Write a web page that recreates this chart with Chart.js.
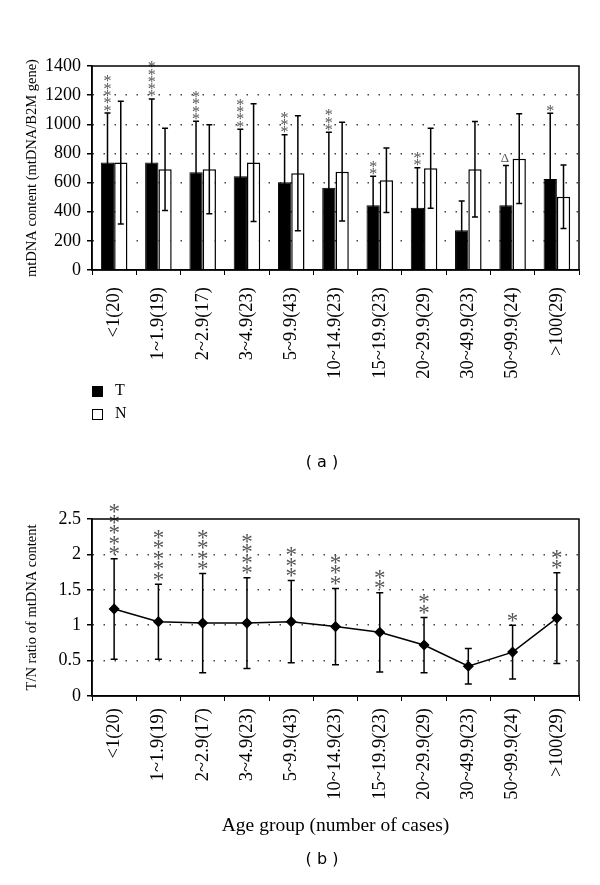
<!DOCTYPE html>
<html>
<head>
<meta charset="utf-8">
<script src="https://cdn.jsdelivr.net/npm/chart.js@4.4.0/dist/chart.umd.min.js"></script>
<style>
  body { margin: 0; background: #fff; }
  #page { position: relative; width: 600px; height: 885px; background: #fff; font-family: "Liberation Serif", serif; }
  canvas { position: absolute; left: 0; }
  #chartA { top: 0; }
  #chartB { top: 470px; }
  .box { position: absolute; left: 92px; width: 9px; height: 9px; border: 1px solid #000; }
  .leg { position: absolute; left: 115px; font-size: 16px; line-height: 1; }
  .cap { position: absolute; left: 322px; transform: translateX(-50%); font-family: "DejaVu Sans", sans-serif; font-size: 16px; line-height: 20px; }
</style>
</head>
<body>
<div id="page">
  <canvas id="chartA" width="600" height="440"></canvas>
  <canvas id="chartB" width="600" height="380"></canvas>
  <div class="box" style="top:386px;background:#000"></div>
  <div class="leg" style="top:382px">T</div>
  <div class="box" style="top:409px;background:#fff"></div>
  <div class="leg" style="top:405px">N</div>
  <div class="cap" style="top:452px">( a )</div>
  <div class="cap" style="top:849px">( b )</div>
</div>
<script>
// ===== DATA =====
const ageGroups = ["<1(20)", "1~1.9(19)", "2~2.9(17)", "3~4.9(23)", "5~9.9(43)", "10~14.9(23)",
  "15~19.9(23)", "20~29.9(29)", "30~49.9(23)", "50~99.9(24)", ">100(29)"];

// (a) mtDNA content, tumour (T) and non-tumour (N)
const tMean = [737, 737, 670, 643, 602, 565, 444, 428, 272, 444, 625];
const tSd   = [340, 437, 350, 323, 327, 380, 199, 274, 202, 274, 451];
const nMean = [737, 691, 691, 737, 664, 675, 616, 698, 691, 764, 503];
const nSd   = [421, 282, 305, 404, 395, 339, 222, 275, 328, 308, 218];
const tMarks = ["*****", "*****", "****", "****", "***", "***", "**", "**", "", "Δ", "*"];

// (b) T/N ratio
const ratio   = [1.23, 1.05, 1.03, 1.03, 1.05, 0.98, 0.90, 0.72, 0.42, 0.62, 1.10];
const ratioSd = [0.71, 0.53, 0.70, 0.64, 0.58, 0.54, 0.56, 0.39, 0.25, 0.38, 0.64];
const rMarks  = ["*****", "*****", "****", "****", "***", "***", "**", "**", "", "*", "**"];

const serif = "'Liberation Serif', 'Times New Roman', serif";

// ===== HELPERS =====
function whisker(ctx, x, yTop, yBot, cap) {
  ctx.beginPath();
  ctx.moveTo(x, yTop); ctx.lineTo(x, yBot);
  ctx.moveTo(x - cap, yTop); ctx.lineTo(x + cap, yTop);
  ctx.moveTo(x - cap, yBot); ctx.lineTo(x + cap, yBot);
  ctx.stroke();
}

// stack the marks upward, first one centred at yStart
function stackMarks(ctx, text, x, yStart, step, size) {
  ctx.font = size + "px " + serif;
  ctx.textAlign = "center";
  ctx.textBaseline = "alphabetic";
  [...text].forEach((ch, k) => {
    const m = ctx.measureText(ch);
    const cy = yStart - k * step;
    ctx.fillText(ch, x, cy + (m.actualBoundingBoxAscent - m.actualBoundingBoxDescent) / 2);
  });
}

const frame = {
  id: "frame",
  afterDraw(chart) {
    const a = chart.chartArea, ctx = chart.ctx;
    ctx.save();
    ctx.strokeStyle = "#000"; ctx.lineWidth = 1.5;
    ctx.strokeRect(a.left, a.top, a.right - a.left, a.bottom - a.top);
    ctx.restore();
  }
};

function dotGrid(maxVal) {
  return {
    color: c => (c.tick.value === 0 || c.tick.value === maxVal) ? "rgba(0,0,0,0)" : "#444",
    lineWidth: 1.5,
    tickColor: "#000",
    tickLength: 5
  };
}

// ===== CHART (a) =====
const barErrors = {
  id: "barErrors",
  afterDatasetsDraw(chart) {
    const ctx = chart.ctx, y = chart.scales.y;
    ctx.save();
    ctx.strokeStyle = "#000"; ctx.lineWidth = 1.5;
    [[0, tMean, tSd], [1, nMean, nSd]].forEach(([di, mean, sd]) => {
      chart.getDatasetMeta(di).data.forEach((bar, i) => {
        whisker(ctx, bar.x, y.getPixelForValue(mean[i] + sd[i]), y.getPixelForValue(mean[i] - sd[i]), 3);
      });
    });
    ctx.fillStyle = "#555";
    chart.getDatasetMeta(0).data.forEach((bar, i) => {
      const top = y.getPixelForValue(tMean[i] + tSd[i]);
      if (tMarks[i] === "Δ") stackMarks(ctx, tMarks[i], bar.x - 1, top - 7, 7.3, 13);
      else stackMarks(ctx, tMarks[i], bar.x, top - 5, 7.3, 16);
    });
    ctx.restore();
  }
};

new Chart(document.getElementById("chartA"), {
  type: "bar",
  data: {
    labels: ageGroups,
    datasets: [
      { label: "T", data: tMean, backgroundColor: "#000", borderColor: "#000", borderWidth: 1 },
      { label: "N", data: nMean, backgroundColor: "#fff", borderColor: "#000", borderWidth: 1.5 }
    ]
  },
  options: {
    responsive: false,
    animation: false,
    layout: { padding: { top: 66, right: 21, left: 0, bottom: 0 } },
    datasets: { bar: { barPercentage: 1, categoryPercentage: 0.6 } },
    plugins: { legend: { display: false }, tooltip: { enabled: false } },
    scales: {
      x: {
        grid: { display: true, drawOnChartArea: false, offset: true, color: "#000", tickLength: 5 },
        border: { color: "#000", width: 1.5 },
        ticks: { autoSkip: false, minRotation: 90, maxRotation: 90, padding: 12, color: "#000", font: { family: serif, size: 18.5 } },
        afterFit: s => { s.height = 170; }
      },
      y: {
        min: 0, max: 1400,
        grid: dotGrid(1400),
        border: { color: "#000", width: 1.5, dash: [1.5, 9.5] },
        ticks: { stepSize: 200, padding: 6, color: "#000", font: { family: serif, size: 18 }, callback: v => String(v) },
        title: { display: true, text: "mtDNA content (mtDNA/B2M gene)", color: "#000", font: { family: serif, size: 14.5 }, padding: { top: 23 } },
        afterFit: s => { s.width = 92; }
      }
    }
  },
  plugins: [barErrors, frame]
});

// ===== CHART (b) =====
const lineErrors = {
  id: "lineErrors",
  beforeDatasetsDraw(chart) {
    const ctx = chart.ctx, y = chart.scales.y;
    ctx.save();
    ctx.strokeStyle = "#000"; ctx.lineWidth = 1.5;
    chart.getDatasetMeta(0).data.forEach((pt, i) => {
      whisker(ctx, pt.x, y.getPixelForValue(ratio[i] + ratioSd[i]), y.getPixelForValue(ratio[i] - ratioSd[i]), 3.5);
    });
    ctx.restore();
  },
  afterDatasetsDraw(chart) {
    const ctx = chart.ctx, y = chart.scales.y;
    ctx.save();
    ctx.fillStyle = "#555";
    chart.getDatasetMeta(0).data.forEach((pt, i) => {
      stackMarks(ctx, rMarks[i], pt.x, y.getPixelForValue(ratio[i] + ratioSd[i]) - 8, 10.5, 23);
    });
    ctx.restore();
  }
};

new Chart(document.getElementById("chartB"), {
  type: "line",
  data: {
    labels: ageGroups,
    datasets: [{
      label: "T/N", data: ratio, borderColor: "#000", backgroundColor: "#000", borderWidth: 1.5,
      pointStyle: "rectRot", pointRadius: 4.5, tension: 0
    }]
  },
  options: {
    responsive: false,
    animation: false,
    layout: { padding: { top: 49, right: 21, left: 0, bottom: 0 } },
    plugins: { legend: { display: false }, tooltip: { enabled: false } },
    scales: {
      x: {
        offset: true,
        grid: { display: true, drawOnChartArea: false, offset: true, color: "#000", tickLength: 5 },
        border: { color: "#000", width: 1.5 },
        ticks: { autoSkip: false, minRotation: 90, maxRotation: 90, padding: 7, color: "#000", font: { family: serif, size: 18.5 } },
        title: { display: true, text: "Age group (number of cases)", color: "#000", font: { family: serif, size: 19.5 }, padding: { bottom: 12 } },
        afterFit: s => { s.height = 154; }
      },
      y: {
        min: 0, max: 2.5,
        grid: dotGrid(2.5),
        border: { color: "#000", width: 1.5, dash: [1.5, 9.5] },
        ticks: { stepSize: 0.5, padding: 6, color: "#000", font: { family: serif, size: 18 }, callback: v => String(v) },
        title: { display: true, text: "T/N ratio of mtDNA content", color: "#000", font: { family: serif, size: 14.5 }, padding: { top: 23 } },
        afterFit: s => { s.width = 92; }
      }
    }
  },
  plugins: [lineErrors, frame]
});
</script>
</body>
</html>
